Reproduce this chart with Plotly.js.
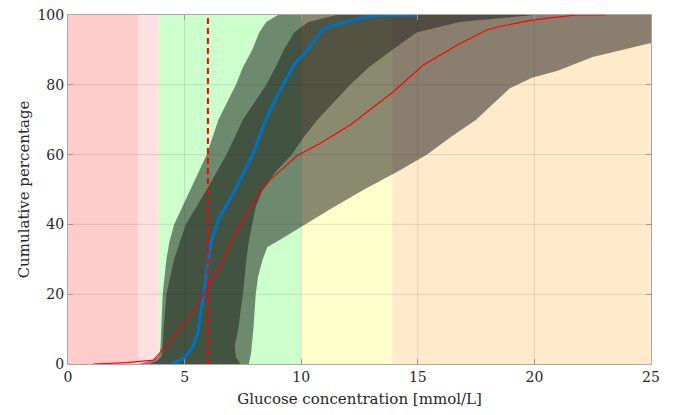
<!DOCTYPE html>
<html>
<head>
<meta charset="utf-8">
<script src="https://cdn.plot.ly/plotly-3.0.1.min.js"></script>
<style>html,body{margin:0;padding:0;background:#fff;}#chart{width:683px;height:415px;}</style>
</head>
<body>
<div id="chart"></div>
<script>
// Glucose range bands [from, to, colour]
const rangeStart = [0, 3.0, 3.9, 10.0, 13.9];
const rangeEnd   = [3.0, 3.9, 10.0, 13.9, 25];
const rangeColor = ['#ffcccc', '#ffe1e1', '#ccffcc', '#ffffcc', '#ffebcc'];

// Outer percentile band (left and right boundaries)
const outerLeftY  = [0, 1, 2, 3, 5, 10, 20, 30, 35, 40, 50, 60, 70, 80, 85, 90, 95, 98, 100];
const outerLeftX  = [3.0, 3.6, 3.85, 3.93, 3.97, 4.0, 4.06, 4.22, 4.35, 4.55, 5.25, 5.95, 6.45, 7.2, 7.5, 7.9, 8.2, 8.5, 9.0];
const outerRightY = [0, 3, 5, 10, 20, 25, 30, 33.5, 35, 40, 45, 50, 55, 60, 65, 70, 75, 79, 82, 84, 88, 92, 96, 100];
const outerRightX = [7.75, 7.85, 7.9, 7.95, 8.05, 8.15, 8.35, 8.55, 8.95, 10.2, 11.4, 12.7, 14.1, 15.4, 16.4, 17.5, 18.3, 18.95, 19.9, 21.0, 22.5, 25.0, 28.0, 31.0];

// Inner percentile band
const innerLeftY  = [0, 1, 2, 3, 5, 10, 20, 30, 35, 40, 50, 60, 70, 80, 85, 90, 95, 98, 100];
const innerLeftX  = [3.5, 3.85, 4.0, 4.04, 4.06, 4.1, 4.22, 4.55, 4.8, 5.05, 5.95, 6.8, 7.5, 8.5, 8.9, 9.25, 9.7, 10.3, 11.5];
const innerRightY = [0, 2, 5, 10, 20, 30, 35, 40, 45, 50, 55, 60, 65, 70, 80, 85, 90, 95, 98, 100];
const innerRightX = [7.4, 7.2, 7.15, 7.3, 7.5, 7.65, 7.75, 7.9, 8.05, 8.35, 8.9, 9.6, 10.1, 10.7, 12.1, 12.9, 13.9, 14.95, 16.8, 20.0];

// Blue cumulative curve
const blueX = [4.45, 4.95, 5.37, 5.59, 5.73, 5.85, 5.97, 6.05, 6.16, 6.45, 7.23, 7.95, 8.15, 8.45, 8.95, 9.73, 10.16, 10.95, 11.66, 12.8, 13.4, 15.0];
const blueY = [0, 1.6, 5, 9.7, 16.4, 21, 28, 32, 35.5, 41.3, 50.8, 60.4, 64, 69.5, 76.6, 86.2, 89, 96.2, 97.6, 99.5, 99.9, 100];

// Red cumulative curve
const redX = [1.09, 2.52, 3.66, 3.87, 4.52, 5.23, 5.95, 6.52, 7.02, 7.52, 8.09, 8.66, 9.8, 10.8, 12.1, 13.95, 15.24, 16.7, 17.95, 18.5, 19.95, 21.8, 23.03];
const redY = [0, 0.4, 1.1, 2.6, 7.8, 13.6, 21.2, 27.9, 35.5, 41.3, 47.9, 52.7, 59.6, 63.2, 68.5, 78, 85.7, 91.4, 95.7, 96.7, 98.6, 100, 100];

// Target threshold
const thresholdX = 6;

const xTicks = [0, 5, 10, 15, 20, 25];
const yTicks = [0, 20, 40, 60, 80, 100];

function band(lx, ly, rx, ry) {
  const x = lx.slice().concat(rx.slice().reverse());
  const y = ly.slice().concat(ry.slice().reverse());
  return {x, y};
}
const outer = band(outerLeftX, outerLeftY, outerRightX, outerRightY);
const inner = band(innerLeftX, innerLeftY, innerRightX, innerRightY);

const traces = [
  {x: outer.x, y: outer.y, type: 'scatter', mode: 'lines', fill: 'toself',
   fillcolor: 'rgba(0,0,0,0.46)', line: {width: 0}, hoverinfo: 'skip', showlegend: false},
  {x: inner.x, y: inner.y, type: 'scatter', mode: 'lines', fill: 'toself',
   fillcolor: 'rgba(0,0,0,0.40)', line: {width: 0}, hoverinfo: 'skip', showlegend: false},
  {x: blueX, y: blueY, type: 'scatter', mode: 'lines',
   line: {color: '#0072BD', width: 3.2}, showlegend: false},
  {x: redX, y: redY, type: 'scatter', mode: 'lines',
   line: {color: '#ff0000', width: 1.1}, showlegend: false},
  {x: [thresholdX, thresholdX], y: [0, 100], type: 'scatter', mode: 'lines',
   line: {color: '#ff0000', width: 2, dash: '6px,4px'}, showlegend: false}
];

const shapes = [];
for (let i = 0; i < rangeStart.length; i++) {
  shapes.push({type: 'rect', xref: 'x', yref: 'y', x0: rangeStart[i], x1: rangeEnd[i], y0: 0, y1: 100,
    fillcolor: rangeColor[i], line: {width: 0}, layer: 'below'});
}
xTicks.slice(1, -1).forEach(v => shapes.push({type: 'line', xref: 'x', yref: 'paper', x0: v, x1: v, y0: 0, y1: 1,
  line: {color: 'rgba(38,38,38,0.13)', width: 1}, layer: 'above'}));
yTicks.slice(1, -1).forEach(v => shapes.push({type: 'line', xref: 'paper', yref: 'y', x0: 0, x1: 1, y0: v, y1: v,
  line: {color: 'rgba(38,38,38,0.13)', width: 1}, layer: 'above'}));

const fontFam = '"DejaVu Serif", "Liberation Serif", serif';
const txt = '#262626';
const layout = {
  width: 683, height: 415,
  margin: {l: 68, r: 32, t: 15, b: 51},
  paper_bgcolor: '#ffffff', plot_bgcolor: '#ffffff',
  font: {family: fontFam, size: 14, color: txt},
  shapes: shapes,
  xaxis: {range: [0, 25], tickvals: xTicks, ticktext: xTicks.map(String),
    showgrid: false, zeroline: false, showline: true, mirror: 'ticks',
    linecolor: '#a8a8a8', linewidth: 1, ticks: 'inside', ticklen: 5, tickcolor: '#a8a8a8',
    tickfont: {family: fontFam, size: 14, color: txt},
    title: {text: 'Glucose concentration [mmol/L]', font: {family: fontFam, size: 15, color: txt}, standoff: 9}},
  yaxis: {range: [0, 100], tickvals: yTicks, ticktext: yTicks.map(String),
    showgrid: false, zeroline: false, showline: true, mirror: 'ticks',
    linecolor: '#a8a8a8', linewidth: 1, ticks: 'inside', ticklen: 5, tickcolor: '#a8a8a8',
    tickfont: {family: fontFam, size: 14, color: txt},
    title: {text: 'Cumulative percentage', font: {family: fontFam, size: 15, color: txt}, standoff: 4}},
  showlegend: false
};

Plotly.newPlot('chart', traces, layout, {displayModeBar: false, staticPlot: true});
</script>
</body>
</html>
